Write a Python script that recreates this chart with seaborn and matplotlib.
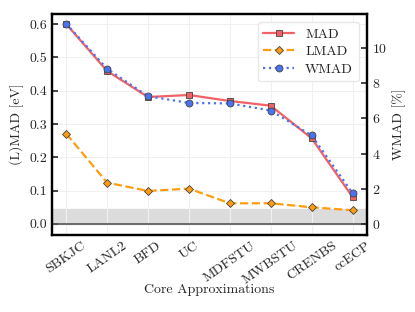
import matplotlib
matplotlib.use("Agg")
import matplotlib.pyplot as plt
import seaborn as sns
import pandas as pd

# Valores
cores = ['SBKJC', 'LANL2', 'BFD', 'UC', 'MDFSTU', 'MWBSTU', 'CRENBS', 'ccECP']
mad = [0.600, 0.459, 0.381, 0.387, 0.369, 0.355, 0.257, 0.081]
lmad = [0.271, 0.124, 0.099, 0.106, 0.062, 0.062, 0.050, 0.041]
wmad = [11.36, 8.80, 7.25, 6.87, 6.84, 6.44, 5.03, 1.77]

dados = pd.DataFrame({'core': cores, 'MAD': mad, 'LMAD': lmad, 'WMAD': wmad})

sns.set_style('white')
plt.rcParams['font.family'] = 'serif'
plt.rcParams['font.serif'] = ['cmr10', 'DejaVu Serif']
plt.rcParams['mathtext.fontset'] = 'cm'
plt.rcParams['axes.formatter.use_mathtext'] = True
plt.rcParams['font.size'] = 10

fig = plt.figure(figsize=(4.15, 3.12), dpi=100)
ax = fig.add_axes([0.125, 0.247, 0.759, 0.708])
ax2 = ax.twinx()

# Faixa cinza e linha no zero
ax.axhspan(0, 0.044, color='#dcdcdc', zorder=0)
ax.axhline(0, color='#555555', lw=1.2, zorder=1)

sns.lineplot(data=dados, x='core', y='MAD', ax=ax, color='#f26166', lw=1.6,
             marker='s', markersize=5, markeredgecolor='#444444', markeredgewidth=0.6,
             label='MAD', legend=False, sort=False)
sns.lineplot(data=dados, x='core', y='LMAD', ax=ax, color='#ff9c0f', lw=1.6, linestyle='--',
             marker='D', markersize=4.5, markeredgecolor='#444444', markeredgewidth=0.6,
             label='LMAD', legend=False, sort=False)
sns.lineplot(data=dados, x='core', y='WMAD', ax=ax2, color='#4a73f0', lw=1.6, linestyle=':',
             marker='o', markersize=5, markeredgecolor='#444444', markeredgewidth=0.6,
             label='WMAD', legend=False, sort=False)

ax.set_ylim(-0.033, 0.63)
ax2.set_ylim(-0.6, 11.9)
ax.set_yticks([0.0, 0.1, 0.2, 0.3, 0.4, 0.5, 0.6])
ax.set_yticklabels(['0.0', '0.1', '0.2', '0.3', '0.4', '0.5', '0.6'])
ax2.set_yticks([0, 2, 4, 6, 8, 10])

ax.set_xticks(range(len(cores)))
ax.set_xticklabels(cores, rotation=35, ha='center')
ax.set_xlabel('Core Approximations', fontsize=10, labelpad=-2)
ax.set_ylabel('(L)MAD [eV]', fontsize=10)
ax2.set_ylabel('WMAD [%]', fontsize=10)

ax.grid(True, color='#f0f0f0', lw=0.8)
ax.set_axisbelow(True)
for a in (ax, ax2):
    for s in a.spines.values():
        s.set_linewidth(1.6)
        s.set_color('black')
ax.tick_params(axis='both', direction='in', length=4, width=1.2, labelsize=10)
ax2.tick_params(axis='y', direction='in', length=4, width=1.2, labelsize=10)

linhas = ax.get_lines()[1:] + ax2.get_lines()
linhas = [l for l in linhas if l.get_label() in ('MAD', 'LMAD', 'WMAD')]
leg = ax2.legend(linhas, [l.get_label() for l in linhas], loc='upper right',
                 fontsize=10, frameon=True, fancybox=True, framealpha=0.9,
                 edgecolor='#e6e6e6', handlelength=2.2, labelspacing=0.35,
                 borderaxespad=0.6)

fig.savefig('out.png', dpi=100)
